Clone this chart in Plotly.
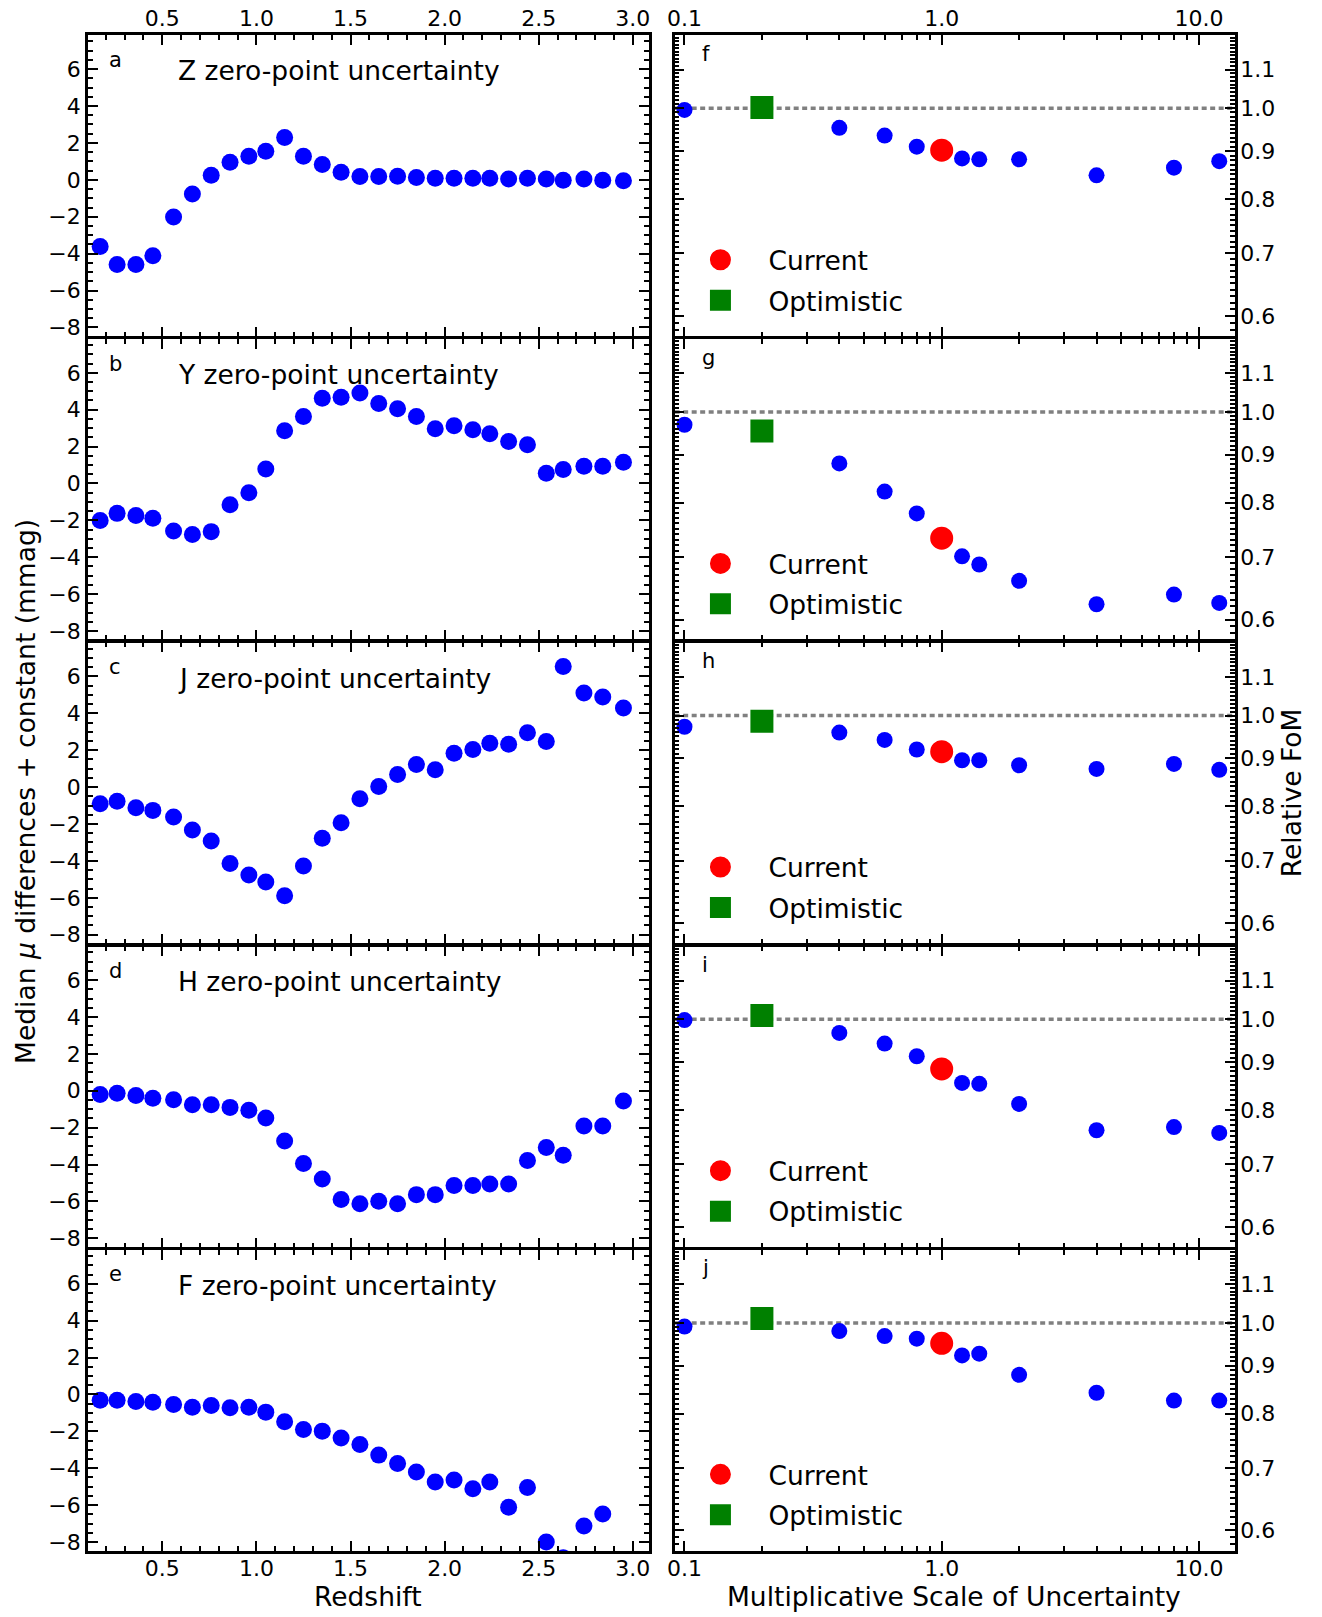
import math
import plotly.graph_objects as go

W, H = 1322, 1617
FONT = "DejaVu Sans"

# ---------------- data ----------------
redshift = [0.17, 0.26, 0.36, 0.45, 0.56, 0.66, 0.76, 0.86, 0.96, 1.05, 1.15, 1.25, 1.35, 1.45,
            1.55, 1.65, 1.75, 1.85, 1.95, 2.05, 2.15, 2.24, 2.34, 2.44, 2.54, 2.63, 2.74, 2.84, 2.95]

z_zp = [-3.62, -4.59, -4.59, -4.11, -2.02, -0.77, 0.25, 0.95, 1.28, 1.55, 2.29, 1.28, 0.83, 0.41,
        0.18, 0.18, 0.20, 0.13, 0.09, 0.09, 0.09, 0.09, 0.04, 0.09, 0.04, -0.02, 0.04, -0.02, -0.05]
y_zp = [-2.01, -1.62, -1.74, -1.89, -2.57, -2.77, -2.61, -1.15, -0.50, 0.79, 2.86, 3.63, 4.62, 4.68,
        4.91, 4.33, 4.05, 3.63, 2.97, 3.13, 2.91, 2.70, 2.28, 2.10, 0.56, 0.76, 0.94, 0.94, 1.15]
j_zp = [-0.90, -0.76, -1.12, -1.26, -1.62, -2.32, -2.92, -4.14, -4.76, -5.14, -5.89, -4.27, -2.77, -1.93,
        -0.63, 0.04, 0.68, 1.23, 0.94, 1.84, 2.04, 2.38, 2.32, 2.95, 2.47, 6.54, 5.10, 4.88, 4.29]
h_zp = [-0.20, -0.14, -0.25, -0.40, -0.49, -0.76, -0.76, -0.90, -1.06, -1.47, -2.72, -3.94, -4.78, -5.90,
        -6.13, -5.99, -6.13, -5.63, -5.63, -5.13, -5.13, -5.05, -5.05, -3.78, -3.08, -3.49, -1.91, -1.91, -0.56]
f_zp = [-0.32, -0.31, -0.38, -0.42, -0.54, -0.69, -0.60, -0.72, -0.69, -0.96, -1.48, -1.90, -1.99, -2.36,
        -2.71, -3.29, -3.75, -4.21, -4.75, -4.64, -5.11, -4.75, -6.12, -5.05, -8.00, -8.85, -7.13, -6.48, None]

unc_scale = [0.1, 0.4, 0.6, 0.8, 1.2, 1.4, 2.0, 4.0, 8.0, 12.0]
fom_z = [0.996, 0.953, 0.935, 0.910, 0.884, 0.882, 0.882, 0.848, 0.864, 0.878]
fom_y = [0.969, 0.881, 0.822, 0.779, 0.701, 0.687, 0.660, 0.623, 0.638, 0.625]
fom_j = [0.973, 0.959, 0.942, 0.920, 0.896, 0.896, 0.885, 0.877, 0.888, 0.875]
fom_h = [0.998, 0.967, 0.942, 0.913, 0.855, 0.853, 0.812, 0.761, 0.767, 0.756]
fom_f = [0.991, 0.980, 0.968, 0.962, 0.923, 0.927, 0.880, 0.842, 0.826, 0.826]

current_scale = [1.0]
optimistic_scale = [0.2]
current_fom = [0.902, 0.733, 0.915, 0.885, 0.951]
optimistic_fom = [1.002, 0.954, 0.986, 1.009, 1.011]
reference_fom = 1.0

bands = ["Z", "Y", "J", "H", "F"]
left_letters = ["a", "b", "c", "d", "e"]
right_letters = ["f", "g", "h", "i", "j"]
zp_series = [z_zp, y_zp, j_zp, h_zp, f_zp]
fom_series = [fom_z, fom_y, fom_j, fom_h, fom_f]

zp_ticks = [-8, -6, -4, -2, 0, 2, 4, 6]
z_ticks = [0.5, 1.0, 1.5, 2.0, 2.5, 3.0]
scale_ticks = [0.1, 1.0, 10.0]
scale_ticktext = ["0.1", "1.0", "10.0"]
scale_minor = [0.2, 0.3, 0.4, 0.5, 0.6, 0.7, 0.8, 0.9, 2, 3, 4, 5, 6, 7, 8, 9]
fom_ticks = [0.6, 0.7, 0.8, 0.9, 1.0, 1.1]
fom_ticktext = ["0.6", "0.7", "0.8", "0.9", "1.0", "1.1"]
fom_minor = [round(0.57 + 0.01 * k, 2) for k in range(64)]
fom_minor = [v for v in fom_minor if v not in fom_ticks]

# ---------------- geometry (px, frame-line centres) ----------------
LW = 2.5
LEFT_X = (79.2, 646.7)
RIGHT_X = (670.5, 1237.8)
ROW_TOP = 34.0
ROW_H = 304.4

# axis ranges measured at the frame-line centres
zp_range = [-8.55, 7.91]
z_range = [0.098, 3.09]
scale_range = [-1.043, 1.146]   # log10
fom_range = [-0.245, 0.0795]    # log10


def inset(rng, length_px):
    """shrink a range so that it maps onto the plot area inside the frame lines"""
    d = (rng[1] - rng[0]) * (LW / 2) / length_px
    return [rng[0] + d, rng[1] - d]


def fx(px):
    return px / W


def fy(py):
    return 1 - py / H


TICKFONT = dict(family=FONT, size=22, color="black")
TITLE_SIZE = 26.5
common = dict(showline=True, linecolor="black", linewidth=LW, mirror="allticks",
              ticks="inside", ticklen=10, tickwidth=2, tickcolor="black",
              showgrid=False, zeroline=False, tickfont=TICKFONT)

fig = go.Figure()
layout = dict(width=W, height=H, margin=dict(l=0, r=0, t=0, b=0),
              plot_bgcolor="white", paper_bgcolor="white",
              font=dict(family=FONT, color="black", size=22),
              showlegend=True)
annotations = []
shapes = []

lx_dom = [fx(LEFT_X[0] + LW / 2), fx(LEFT_X[1] - LW / 2)]
rx_dom = [fx(RIGHT_X[0] + LW / 2), fx(RIGHT_X[1] - LW / 2)]
left_w = LEFT_X[1] - LEFT_X[0]
right_w = RIGHT_X[1] - RIGHT_X[0]

for r in range(5):
    top = ROW_TOP + r * ROW_H
    bot = top + ROW_H
    ydom = [fy(bot - LW / 2), fy(top + LW / 2)]
    li, ri = 2 * r + 1, 2 * r + 2
    lx = "x" if li == 1 else f"x{li}"
    ly = "y" if li == 1 else f"y{li}"
    rx, ry = f"x{ri}", f"y{ri}"
    kx = lambda i: "xaxis" if i == 1 else f"xaxis{i}"
    ky = lambda i: "yaxis" if i == 1 else f"yaxis{i}"
    show_x = r in (0, 4)
    xside = "top" if r == 0 else "bottom"
    xstand = -2 if r == 0 else -4

    layout[kx(li)] = dict(common, domain=lx_dom, anchor=ly,
                          range=inset(z_range, left_w), tickmode="array", tickvals=z_ticks,
                          tickformat=".1f", side=xside, showticklabels=show_x,
                          ticklabelstandoff=xstand,
                          minor=dict(dtick=0.1, tick0=0, ticks="inside", ticklen=5,
                                     tickwidth=2, tickcolor="black"))
    layout[ky(li)] = dict(common, domain=ydom, anchor=lx, range=inset(zp_range, ROW_H),
                          tickmode="array", tickvals=zp_ticks, side="left",
                          minor=dict(dtick=0.5, tick0=0, ticks="inside", ticklen=5,
                                     tickwidth=2, tickcolor="black"))
    layout[kx(ri)] = dict(common, type="log", domain=rx_dom,
                          anchor=ry, range=inset(scale_range, right_w), tickmode="array",
                          tickvals=scale_ticks, ticktext=scale_ticktext,
                          side=xside, showticklabels=show_x, ticklabelstandoff=xstand,
                          minor=dict(tickmode="array", tickvals=scale_minor, ticks="inside",
                                     ticklen=5, tickwidth=2, tickcolor="black"))
    fr = inset(fom_range, ROW_H)
    layout[ky(ri)] = dict(common, type="log", domain=ydom, anchor=rx, range=fr,
                          tickmode="array", tickvals=fom_ticks, ticktext=fom_ticktext,
                          side="right", ticklabelstandoff=-2,
                          minor=dict(tickmode="array", tickvals=fom_minor, ticks="inside",
                                     ticklen=5, tickwidth=2, tickcolor="black"))

    # left panel points
    fig.add_trace(go.Scatter(x=redshift, y=zp_series[r], mode="markers", xaxis=lx, yaxis=ly,
                             marker=dict(color="#0000ff", size=17, line=dict(width=0)),
                             showlegend=False, hoverinfo="skip"))
    # right panel points
    leg = "legend" if r == 0 else f"legend{r + 1}"
    fig.add_trace(go.Scatter(x=unc_scale, y=fom_series[r], mode="markers", xaxis=rx, yaxis=ry,
                             marker=dict(color="#0000ff", size=16, line=dict(width=0)),
                             showlegend=False, hoverinfo="skip"))
    fig.add_trace(go.Scatter(x=current_scale, y=[current_fom[r]], mode="markers", xaxis=rx, yaxis=ry,
                             name="Current", legend=leg, legendgroup=f"cur{r}",
                             marker=dict(color="#ff0000", size=18, symbol="circle",
                                         line=dict(width=5, color="#ff0000"))))
    fig.add_trace(go.Scatter(x=optimistic_scale, y=[optimistic_fom[r]], mode="markers", xaxis=rx, yaxis=ry,
                             name="Optimistic", legend=leg, legendgroup=f"opt{r}",
                             marker=dict(color="#008000", size=18, symbol="square",
                                         line=dict(width=5, color="#008000"))))
    layout[leg] = dict(x=fx(669.5), y=fy(top + 202.6), xanchor="left", yanchor="top",
                       font=dict(family=FONT, size=TITLE_SIZE, color="black"), itemwidth=86,
                       tracegroupgap=3, bgcolor="rgba(0,0,0,0)", borderwidth=0)

    # dotted reference line at FoM = 1
    yfrac = (math.log10(reference_fom) - fr[0]) / (fr[1] - fr[0])
    shapes.append(dict(type="line", xref=f"{rx} domain", yref=f"{ry} domain",
                       x0=0, x1=1, y0=yfrac, y1=yfrac, layer="below",
                       line=dict(color="#808080", width=3.5, dash="5px,3.5px")))

    # panel letters and titles
    annotations.append(dict(text=left_letters[r], xref="paper", yref="paper",
                            x=fx(100), y=fy(top + 34.5 - 22.5), xanchor="left", yanchor="top",
                            showarrow=False, font=dict(family=FONT, size=21, color="black")))
    annotations.append(dict(text=right_letters[r], xref="paper", yref="paper",
                            x=fx(697), y=fy(top + 28.5 - 22.5), xanchor="left", yanchor="top",
                            showarrow=False, font=dict(family=FONT, size=21, color="black")))
    annotations.append(dict(text=f"{bands[r]} zero-point uncertainty", xref="paper", yref="paper",
                            x=fx(169), y=fy(top + 45 - 25.6), xanchor="left", yanchor="top",
                            showarrow=False, font=dict(family=FONT, size=TITLE_SIZE, color="black")))

# axis titles
annotations.append(dict(text="Redshift", xref="paper", yref="paper", x=fx(363), y=fy(1600),
                        xanchor="center", yanchor="middle", showarrow=False,
                        font=dict(family=FONT, size=TITLE_SIZE, color="black")))
annotations.append(dict(text="Multiplicative Scale of Uncertainty", xref="paper", yref="paper",
                        x=fx(953.5), y=fy(1600), xanchor="center", yanchor="middle",
                        showarrow=False, font=dict(family=FONT, size=TITLE_SIZE, color="black")))
annotations.append(dict(text="Median <i>μ</i> differences + constant (mmag)", xref="paper", yref="paper",
                        x=fx(17), y=fy(793), xanchor="center", yanchor="middle", textangle=-90,
                        showarrow=False, font=dict(family=FONT, size=TITLE_SIZE, color="black")))
annotations.append(dict(text="Relative FoM", xref="paper", yref="paper", x=fx(1293), y=fy(795),
                        xanchor="center", yanchor="middle", textangle=-90, showarrow=False,
                        font=dict(family=FONT, size=TITLE_SIZE, color="black")))

layout["annotations"] = annotations
layout["shapes"] = shapes
fig.update_layout(**layout)
fig.write_html("out.html")
